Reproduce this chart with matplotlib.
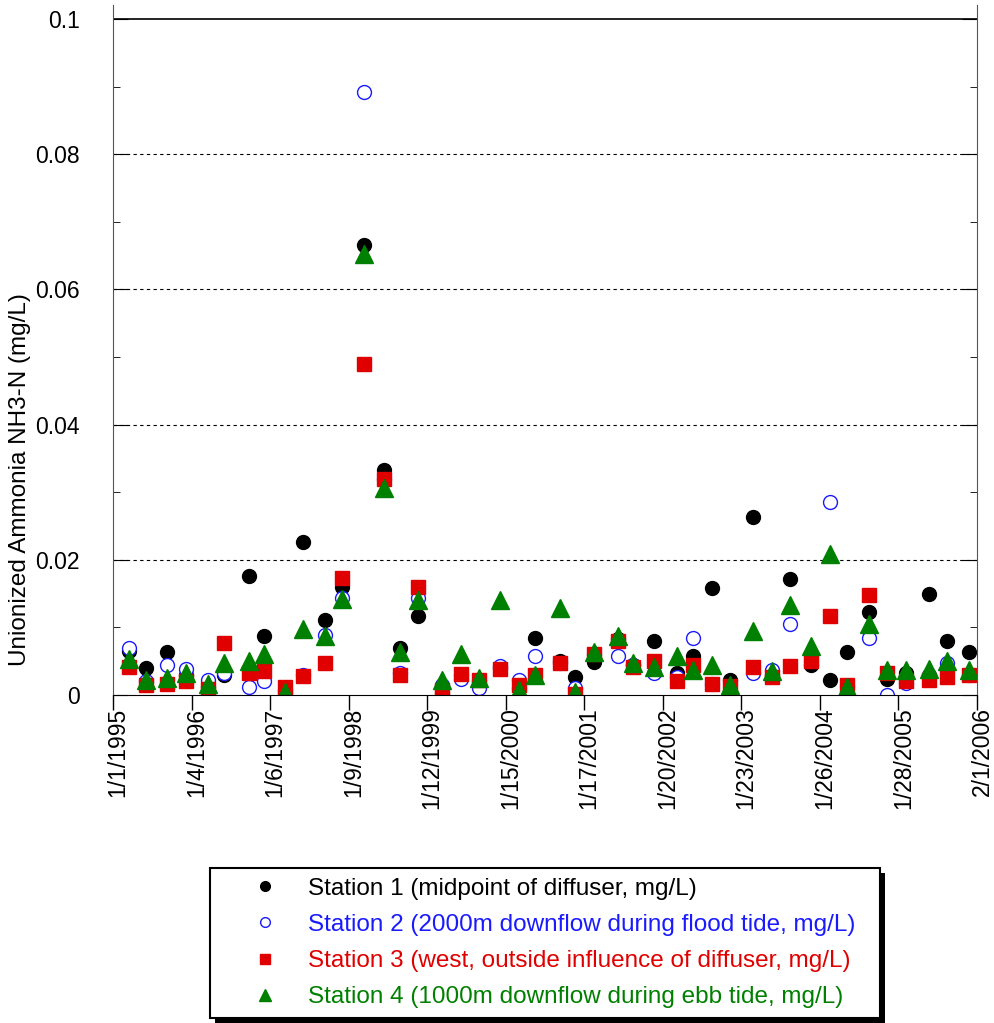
import matplotlib
matplotlib.use("Agg")
import matplotlib.pyplot as plt
from matplotlib.ticker import MultipleLocator, FuncFormatter
from matplotlib.transforms import ScaledTranslation
from matplotlib.patches import Rectangle
import pandas as pd
from datetime import datetime

plt.rcParams['font.family'] = ['Liberation Sans', 'DejaVu Sans']

# sampling dates (roughly quarterly)
dates = pd.to_datetime([
    "1995-03-18", "1995-06-05", "1995-09-12", "1995-12-08",
    "1996-03-20", "1996-06-05", "1996-09-27", "1996-12-08",
    "1997-03-19", "1997-06-10", "1997-09-19", "1997-12-09",
    "1998-03-24", "1998-06-23", "1998-09-06", "1998-12-01",
    "1999-03-25", "1999-06-19", "1999-09-11", "1999-12-20",
    "2000-03-18", "2000-05-31", "2000-09-25", "2000-12-07",
    "2001-03-03", "2001-06-23", "2001-09-03", "2001-12-09",
    "2002-03-27", "2002-06-11", "2002-09-07", "2002-11-30",
    "2003-03-17", "2003-06-14", "2003-09-07", "2003-12-18",
    "2004-03-16", "2004-05-31", "2004-09-13", "2004-12-05",
    "2005-03-03", "2005-06-20", "2005-09-15", "2005-12-24",
])

station1 = [0.0065, 0.0040, 0.0064, 0.0030, 0.0012, 0.0030, 0.0176, 0.0087,
            0.0008, 0.0226, 0.0111, 0.0160, 0.0665, 0.0333, 0.0069, 0.0117,
            0.0003, 0.0030, 0.0020, 0.0040, 0.0010, 0.0085, 0.0050, 0.0027,
            0.0049, 0.0083, 0.0045, 0.0080, 0.0033, 0.0058, 0.0158, 0.0022,
            0.0264, 0.0030, 0.0171, 0.0044, 0.0022, 0.0064, 0.0123, 0.0024,
            0.0033, 0.0150, 0.0080, 0.0063]
station2 = [0.0070, 0.0020, 0.0044, 0.0038, 0.0022, 0.0033, 0.0012, 0.0020,
            0.0003, 0.0030, 0.0089, 0.0143, 0.0892, 0.0320, 0.0033, 0.0144,
            0.0015, 0.0023, 0.0010, 0.0043, 0.0022, 0.0057, 0.0048, 0.0010,
            0.0060, 0.0058, 0.0045, 0.0032, 0.0027, 0.0085, 0.0017, 0.0005,
            0.0032, 0.0037, 0.0105, 0.0050, 0.0286, 0.0013, 0.0085, 0.0000,
            0.0018, 0.0030, 0.0048, 0.0030]
station3 = [0.0042, 0.0015, 0.0016, 0.0021, 0.0009, 0.0077, 0.0033, 0.0036,
            0.0012, 0.0028, 0.0047, 0.0173, 0.0490, 0.0319, 0.0030, 0.0160,
            0.0007, 0.0031, 0.0022, 0.0038, 0.0015, 0.0030, 0.0048, 0.0002,
            0.0061, 0.0080, 0.0041, 0.0050, 0.0021, 0.0044, 0.0017, 0.0013,
            0.0041, 0.0027, 0.0043, 0.0051, 0.0117, 0.0015, 0.0148, 0.0033,
            0.0020, 0.0022, 0.0027, 0.0030]
station4 = [0.0053, 0.0022, 0.0025, 0.0033, 0.0016, 0.0047, 0.0050, 0.0061,
            0.0005, 0.0098, 0.0087, 0.0142, 0.0653, 0.0306, 0.0064, 0.0141,
            0.0022, 0.0060, 0.0025, 0.0140, 0.0007, 0.0030, 0.0128, 0.0005,
            0.0064, 0.0087, 0.0048, 0.0042, 0.0058, 0.0037, 0.0044, 0.0015,
            0.0094, 0.0036, 0.0133, 0.0073, 0.0208, 0.0012, 0.0105, 0.0037,
            0.0037, 0.0039, 0.0051, 0.0037]

xtick_labels = ["1/1/1995", "1/4/1996", "1/6/1997", "1/9/1998", "1/12/1999",
                "1/15/2000", "1/17/2001", "1/20/2002", "1/23/2003",
                "1/26/2004", "1/28/2005", "2/1/2006"]

labels = ["Station 1 (midpoint of diffuser, mg/L)",
          "Station 2 (2000m downflow during flood tide, mg/L)",
          "Station 3 (west, outside influence of diffuser, mg/L)",
          "Station 4 (1000m downflow during ebb tide, mg/L)"]
colors = ["black", "#1a1aff", "#e00000", "#008000"]

W, H = 994, 1023
fig = plt.figure(figsize=(W / 100, H / 100), dpi=100)
ax = fig.add_axes([113/W, 1 - 695/H, 864/W, 690/H])

ax.plot(dates, station1, 'o', ms=10, color=colors[0], label=labels[0])
ax.plot(dates, station2, 'o', ms=10, mfc='white', mec=colors[1], mew=1.0,
        color=colors[1], label=labels[1])
ax.plot(dates, station3, 's', ms=10.5, color=colors[2], label=labels[2])
ax.plot(dates, station4, '^', ms=12.5, color=colors[3], label=labels[3])

tick_dates = [datetime.strptime(s, "%m/%d/%Y") for s in xtick_labels]
ax.set_xlim(tick_dates[0], tick_dates[-1])
ax.set_ylim(0, 0.1 * 690 / 676)

ax.set_xticks(tick_dates)
ax.set_xticklabels(xtick_labels, rotation=90, fontsize=16.5, va='top', ha='center')
ax.tick_params(axis='x', direction='out', length=11, width=1, pad=-2)
for lab in ax.get_xticklabels():
    lab.set_transform(lab.get_transform() + ScaledTranslation(0.05, 0, fig.dpi_scale_trans))

ax.set_yticks([0, 0.02, 0.04, 0.06, 0.08, 0.1])
ax.yaxis.set_major_formatter(FuncFormatter(lambda v, p: "%g" % round(v, 4)))
ax.yaxis.set_minor_locator(MultipleLocator(0.01))
ax.tick_params(axis='y', which='both', direction='in', right=True, labelsize=16.5, pad=24)
ax.tick_params(axis='y', which='major', length=11)
ax.tick_params(axis='y', which='minor', length=5)

for v in [0.02, 0.04, 0.06, 0.08]:
    ax.axhline(v, color='black', lw=0.8, ls=(0, (3, 3)), zorder=0)
ax.axhline(0.1, color='black', lw=1.2, zorder=0)

ax.spines['top'].set_visible(False)
for s in ['left', 'right']:
    ax.spines[s].set_color('#555555')

fig.text(20/W, 1 - 480/H, "Unionized Ammonia NH3-N (mg/L)", rotation=90,
         fontsize=17.5, ha='center', va='center')

# legend box with hard black drop shadow
bx0, bx1, by0, by1 = 210, 880, 868, 1018
fig.patches.append(Rectangle(((bx0 + 5) / W, 1 - (by1 + 5) / H), (bx1 - bx0) / W,
                             (by1 - by0) / H, transform=fig.transFigure,
                             facecolor='black', edgecolor='none', zorder=1))
fig.patches.append(Rectangle((bx0 / W, 1 - by1 / H), (bx1 - bx0) / W,
                             (by1 - by0) / H, transform=fig.transFigure,
                             facecolor='white', edgecolor='black', lw=1.5, zorder=2))

leg = fig.legend(loc='center', bbox_to_anchor=((bx0 + bx1) / 2 / W, 1 - (by0 + by1) / 2 / H),
                 fontsize=17.5, markerscale=0.7, frameon=False, labelspacing=0.58,
                 handlelength=2.5, handletextpad=0.5, borderpad=0, borderaxespad=0)
leg.set_zorder(3)
for text, c in zip(leg.get_texts(), colors):
    text.set_color(c)

fig.savefig("out.png", dpi=100)
